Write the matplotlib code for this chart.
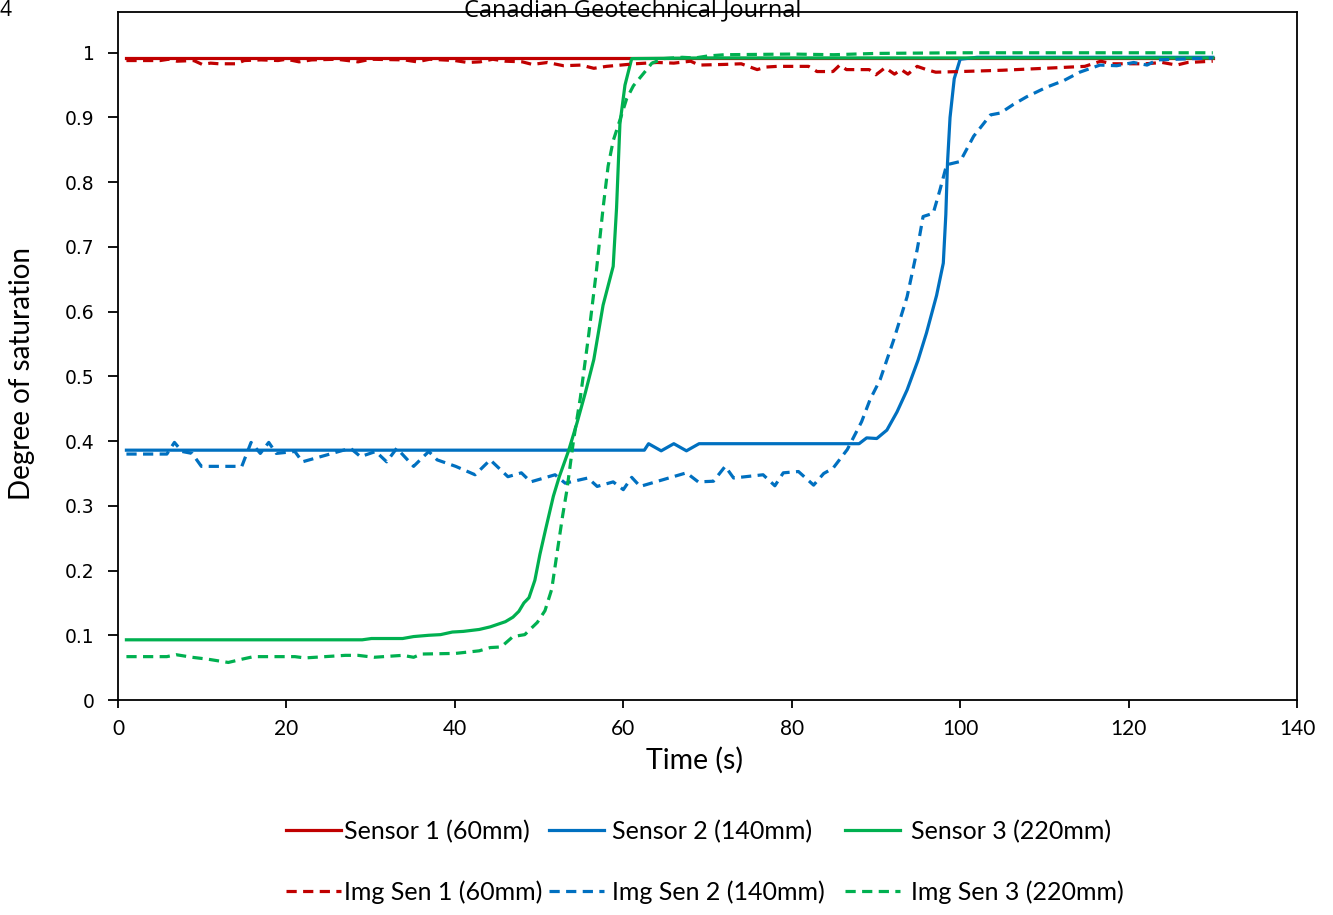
import matplotlib
matplotlib.use('Agg')
import matplotlib.pyplot as plt
from matplotlib.lines import Line2D

RED = '#C00000'
BLUE = '#0070C0'
GREEN = '#00B050'

# Sensor readings (time in s, degree of saturation)
sen1_t = [1, 130]
sen1_s = [0.992, 0.992]

sen2_t = [1, 62.5, 63.0, 64.5, 66.0, 67.5, 69.0, 88.0, 88.9, 90.1, 91.3,
          92.5, 93.7, 95.0, 96.0, 97.2, 98.0, 98.3, 98.5, 98.8, 99.3,
          100.0, 102.0, 130]
sen2_s = [0.386, 0.386, 0.396, 0.385, 0.396, 0.385, 0.396, 0.396, 0.405,
          0.404, 0.417, 0.445, 0.479, 0.525, 0.567, 0.625, 0.675, 0.75,
          0.83, 0.90, 0.96, 0.99, 0.993, 0.993]

sen3_t = [1, 29, 30.1, 33.8, 35.1, 36.9, 38.3, 39.7, 41.0, 42.9, 44.2,
          46.0, 46.9, 47.6, 48.2, 48.8, 49.5, 50.1, 50.8, 51.7, 52.4, 53.5,
          54.5, 55.5, 56.5, 57.6, 58.3, 58.8, 59.2, 59.6, 60.2, 61.0, 70,
          130]
sen3_s = [0.093, 0.093, 0.095, 0.095, 0.098, 0.100, 0.101, 0.105, 0.106,
          0.109, 0.113, 0.121, 0.128, 0.137, 0.150, 0.158, 0.185, 0.225,
          0.265, 0.315, 0.345, 0.385, 0.428, 0.475, 0.526, 0.610, 0.645,
          0.670, 0.760, 0.890, 0.950, 0.991, 0.992, 0.992]

# Image-based estimates
img1_t = [1, 5, 6, 7, 9, 10, 11, 12, 14, 15, 17, 19, 20, 21.5, 23, 26,
          28.5, 30, 34, 35.5, 37, 40, 41.5, 43, 44.5, 46, 48, 49.2, 51,
          52.9, 55, 56.5, 58, 61.4, 64, 66, 68, 69, 72, 74, 75.9, 77, 78.3,
          82, 83, 84.9, 85.7, 86.5, 89.2, 90, 91.1, 92.2, 93, 93.8, 94.9,
          96, 97.1, 100, 105, 110, 114.8, 116.7, 118, 122, 124, 125.7, 127,
          130]
img1_s = [0.988, 0.988, 0.990, 0.987, 0.988, 0.982, 0.984, 0.983, 0.983,
          0.988, 0.989, 0.988, 0.990, 0.986, 0.989, 0.990, 0.986, 0.990,
          0.989, 0.986, 0.990, 0.988, 0.985, 0.986, 0.990, 0.987, 0.986,
          0.982, 0.985, 0.980, 0.981, 0.976, 0.979, 0.983, 0.985, 0.984,
          0.987, 0.981, 0.982, 0.983, 0.974, 0.978, 0.979, 0.979, 0.971,
          0.971, 0.981, 0.974, 0.974, 0.966, 0.977, 0.967, 0.974, 0.967,
          0.979, 0.974, 0.970, 0.971, 0.973, 0.976, 0.979, 0.987, 0.983,
          0.983, 0.985, 0.981, 0.985, 0.987]

img2_t = [1, 5.8, 6.7, 7.6, 8.8, 9.9, 14.7, 15.8, 16.9, 17.9, 18.8, 21.0,
          21.9, 27.6, 28.8, 30.6, 31.9, 33.1, 35.1, 36.9, 37.9, 40.1, 42.4,
          44.2, 46.3, 47.9, 49.0, 51.9, 53.1, 55.8, 56.9, 58.8, 60.0, 61.0,
          62.0, 67.5, 68.9, 70.7, 72.1, 73.1, 76.6, 78.0, 79.0, 80.8, 82.6,
          83.8, 84.9, 86.6, 88.3, 89.3, 90.5, 92.1, 93.7, 94.9, 95.6, 96.8,
          97.6, 98.4, 100.0, 101.6, 103.6, 104.8, 106.3, 107.9, 110.3,
          112.3, 114.2, 116.6, 118.6, 120.6, 122.2, 123.4, 130]
img2_s = [0.380, 0.380, 0.398, 0.384, 0.381, 0.361, 0.361, 0.398, 0.381,
          0.398, 0.381, 0.384, 0.368, 0.389, 0.376, 0.384, 0.368, 0.389,
          0.361, 0.384, 0.371, 0.361, 0.348, 0.371, 0.345, 0.351, 0.337,
          0.348, 0.335, 0.343, 0.330, 0.337, 0.325, 0.344, 0.330, 0.351,
          0.337, 0.338, 0.361, 0.343, 0.348, 0.331, 0.351, 0.353, 0.332,
          0.350, 0.358, 0.387, 0.430, 0.464, 0.495, 0.556, 0.623, 0.696,
          0.747, 0.752, 0.788, 0.827, 0.832, 0.871, 0.904, 0.907, 0.920,
          0.932, 0.947, 0.957, 0.970, 0.981, 0.980, 0.985, 0.981, 0.989,
          0.992]

img3_t = [1, 5.8, 6.9, 8.8, 10.7, 13.1, 14.7, 16.1, 21.0, 22.2, 27.0,
          28.5, 30.4, 33.8, 35.1, 36.0, 40.1, 42.9, 44.2, 45.5, 46.9, 48.3,
          49.8, 50.7, 51.5, 52.1, 52.8, 53.3, 54.1, 54.9, 55.9, 56.8, 57.6,
          58.2, 58.8, 59.6, 60.4, 61.2, 62.4, 63.4, 64.8, 67.0, 68.5, 70,
          72, 80, 85, 90, 100, 130]
img3_s = [0.067, 0.067, 0.070, 0.066, 0.063, 0.058, 0.063, 0.067, 0.067,
          0.065, 0.069, 0.069, 0.066, 0.069, 0.066, 0.071, 0.072, 0.076,
          0.081, 0.082, 0.098, 0.101, 0.120, 0.138, 0.171, 0.224, 0.285,
          0.324, 0.402, 0.467, 0.565, 0.662, 0.760, 0.825, 0.864, 0.896,
          0.929, 0.949, 0.968, 0.984, 0.991, 0.993, 0.992, 0.995, 0.997,
          0.998, 0.997, 0.999, 1.0, 1.0]

labels = ['Sensor 1 (60mm)', 'Sensor 2 (140mm)', 'Sensor 3 (220mm)',
          'Img Sen 1 (60mm)', 'Img Sen 2 (140mm)', 'Img Sen 3 (220mm)']
colors = [RED, BLUE, GREEN]

LW = 2.3
DASH = (3.2, 2.0)
W, H = 1333, 915

fig = plt.figure(figsize=(W / 100, H / 100), dpi=100)
ax = fig.add_axes([118 / W, 1 - 700 / H, (1297 - 118) / W, (700 - 12) / H])

ax.plot(sen1_t, sen1_s, color=RED, lw=LW)
ax.plot(sen2_t, sen2_s, color=BLUE, lw=LW)
ax.plot(sen3_t, sen3_s, color=GREEN, lw=LW)
ax.plot(img1_t, img1_s, color=RED, lw=LW, dashes=DASH)
ax.plot(img2_t, img2_s, color=BLUE, lw=LW, dashes=DASH)
ax.plot(img3_t, img3_s, color=GREEN, lw=LW, dashes=DASH)

ax.set_xlim(0, 140)
ax.set_ylim(0, 1.063)
ax.set_xticks(range(0, 141, 20))
ax.set_yticks([i / 10 for i in range(11)])
ax.set_yticklabels(['0'] + ['0.%d' % i for i in range(1, 10)] + ['1'])
ax.tick_params(axis='both', direction='out', width=1.3, color='black')
ax.tick_params(axis='x', length=6, pad=8, labelsize=15)
ax.tick_params(axis='y', length=7, pad=10, labelsize=13.5)
for lab in ax.get_xticklabels():
    lab.set_family('Lato')
for sp in ax.spines.values():
    sp.set_linewidth(1.3)

fig.text(695 / W, 1 - 760 / H, 'Time (s)', ha='center', va='center',
         fontsize=20.5, family='Lato')
fig.text(22 / W, 1 - 373 / H, 'Degree of saturation', ha='center',
         va='center', rotation=90, fontsize=20, family='Lato')

fig.text(633 / W, 1 - 10 / H, 'Canadian Geotechnical Journal', ha='center',
         va='center', fontsize=17, family='Open Sans', zorder=10)
fig.text(0, 1 - 10 / H, '4', ha='left', va='center', fontsize=15,
         family='Open Sans')

# one legend per column: solid sensor on top, image estimate below
col_x = [286, 549, 845]
col_pad = [0.12, 0.3, 0.45]
for i, c in enumerate(colors):
    hs = [Line2D([], [], color=c, lw=LW),
          Line2D([], [], color=c, lw=LW, dashes=DASH)]
    fig.legend(hs, [labels[i], labels[i + 3]], loc='center left',
               bbox_to_anchor=(col_x[i] / W, 1 - 862 / H),
               frameon=False, borderpad=0, borderaxespad=0,
               handlelength=2.2, handletextpad=col_pad[i],
               labelspacing=1.5, prop={'family': 'Lato', 'size': 18})

fig.savefig('out.png', dpi=100)
